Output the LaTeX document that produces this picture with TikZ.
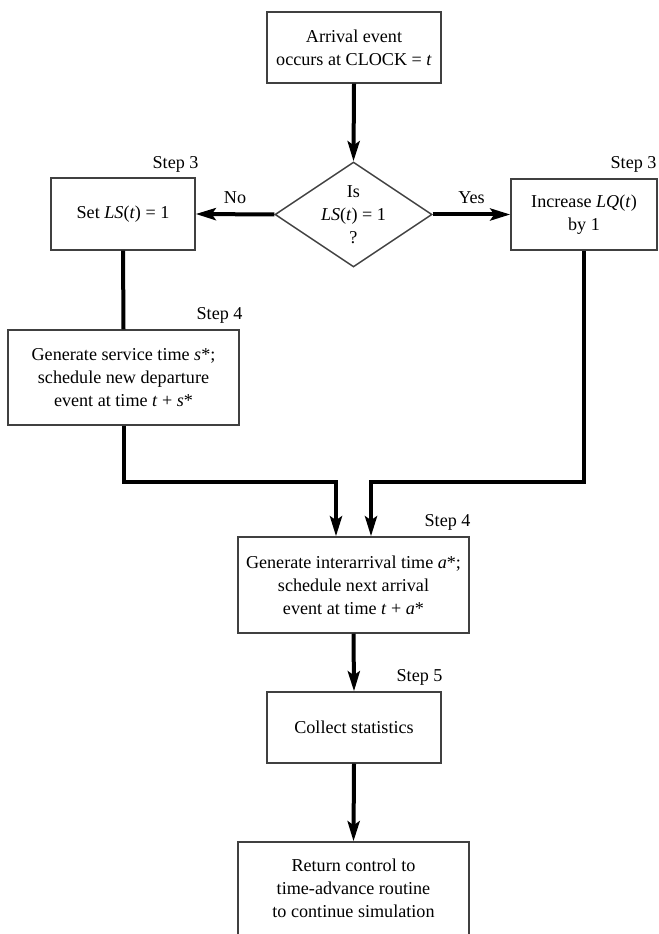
\documentclass[tikz,border=0pt]{standalone}
\usepackage{fontspec}
\setmainfont{Liberation Serif}
\usetikzlibrary{shapes.geometric,arrows.meta,calc}
\begin{document}
\begin{tikzpicture}[x=0.75pt,y=-0.75pt,
  txt/.style={font=\fontsize{13.6}{17.25}\selectfont},
  box/.style={draw=black!75,line width=1.1pt,rectangle,align=center,txt,inner sep=0pt},
  steplabel/.style={txt,inner sep=0pt,anchor=south east},
  conn/.style={line width=3pt,black},
  arr/.style={conn,-{Stealth[length=15pt,width=9pt,inset=3pt]}}]
\path[use as bounding box] (0,0) rectangle (658,934);
\node[box,minimum width=174*0.75pt,minimum height=71*0.75pt] (top) at (354,47.5)
  {Arrival event\\occurs at CLOCK = \textit{t}};
\node[diamond,draw=black!75,line width=1.1pt,inner sep=0pt,minimum width=157*0.75pt,minimum height=105*0.75pt,
  label={[txt,align=center]center:Is\\\textit{LS}(\textit{t}) = 1\\?}] (dia) at (353.5,214.5) {};
\node[box,minimum width=144*0.75pt,minimum height=72*0.75pt] (set) at (123,214)
  {Set \textit{LS}(\textit{t}) = 1};
\node[box,minimum width=146*0.75pt,minimum height=71*0.75pt] (inc) at (584,214.5)
  {Increase \textit{LQ}(\textit{t})\\by 1};
\node[box,minimum width=231*0.75pt,minimum height=95*0.75pt] (gen) at (123.5,377.5)
  {Generate service time \textit{s}*;\\schedule new departure\\event at time \textit{t} + \textit{s}*};
\node[box,minimum width=231*0.75pt,minimum height=96*0.75pt] (inter) at (353.5,585)
  {Generate interarrival time \textit{a}*;\\schedule next arrival\\event at time \textit{t} + \textit{a}*};
\node[box,minimum width=174*0.75pt,minimum height=71*0.75pt] (coll) at (354,727.5)
  {Collect statistics};
\node[box,minimum width=231*0.75pt,minimum height=93*0.75pt] (ret) at (353.5,888.5)
  {Return control to\\time-advance routine\\to continue simulation};
% step labels
\node[steplabel] (s3l) at ($(set.north east)+(3,-5)$) {Step 3};
\node[steplabel] (s3r) at ($(inc.north east)+(-1,-6)$) {Step 3};
\node[steplabel] (s4l) at ($(gen.north east)+(3,-6)$) {Step 4};
\node[steplabel] (s4m) at ($(inter.north east)+(1,-6)$) {Step 4};
\node[steplabel] (s5) at ($(coll.north east)+(1,-6)$) {Step 5};
% connectors
\draw[arr] (top.south) -- (dia.north);
\draw[arr] (dia.west) -- node[txt,above=3pt] (no) {No} (set.east);
\draw[arr] (dia.east) -- node[txt,above=3pt] (yes) {Yes} (inc.west);
\draw[conn] (set.south) -- (gen.north);
\coordinate (jl) at (336,482);
\coordinate (jr) at (371,482);
\draw[arr] (gen.south) |- (jl) -- (jl |- inter.north);
\draw[arr] (inc.south) |- (jr) -- (jr |- inter.north);
\draw[arr] (inter.south) -- (coll.north);
\draw[arr] (coll.south) -- (ret.north);
\end{tikzpicture}
\end{document}
